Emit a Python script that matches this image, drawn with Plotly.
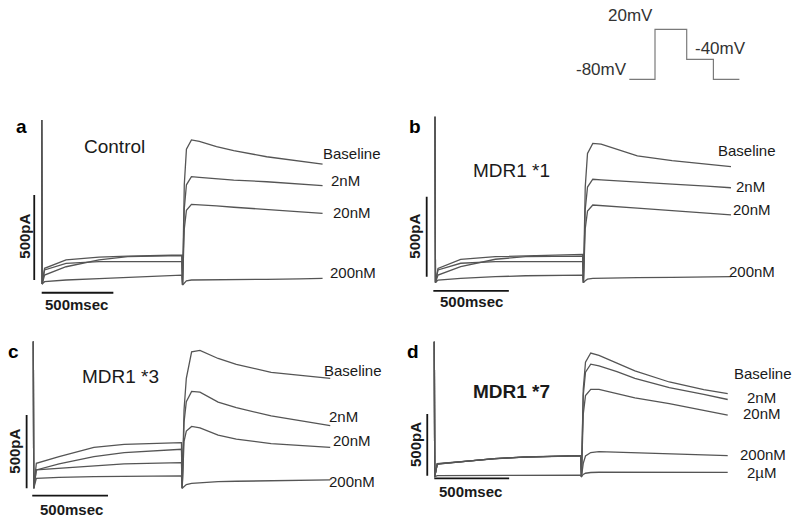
import plotly.graph_objects as go

W, H = 800, 521

# ---------------- data ----------------
# sample times (ms) along each sweep: spike, step to +20 mV (0-978 ms), tail at -40 mV
T_MS = [0, 3, 20, 170, 400, 600, 978, 983, 995, 1010, 1045, 1100, 1220, 1340, 1570, 1800, 1960]

CONC_ABC = ["Baseline", "2nM", "20nM", "200nM"]
CONC_D = ["Baseline", "2nM", "20nM", "200nM", "2µM"]

# current (pA) – panel a, Control
A_BASELINE = [941, -24, 69, 118, 135, 141, 147, -29, 560, 770, 824, 815, 785, 761, 725, 700, 682]
A_2NM = [941, -24, 59, 98, 108, 108, 108, -29, 420, 560, 608, 604, 594, 588, 578, 566, 555]
A_20NM = [941, -24, 29, 78, 118, 137, 143, -29, 300, 410, 445, 443, 436, 428, 416, 404, 392]
A_200NM = [941, -24, -10, 0, 8, 15, 29, -29, -15, -5, 0, 0, 0, 2, 4, 7, 10]

# panel b, MDR1 *1
B_BASELINE = [1000, -37, 52, 108, 125, 131, 140, -37, 560, 770, 833, 828, 790, 755, 725, 705, 688]
B_2NM = [1000, -37, 42, 84, 94, 94, 94, -37, 420, 560, 609, 605, 597, 590, 578, 566, 556]
B_20NM = [1000, -37, 10, 63, 109, 125, 129, -37, 300, 410, 448, 445, 437, 428, 413, 398, 386]
B_200NM = [1000, -37, -21, -10, 0, 6, 10, -37, -25, -15, -10, -10, -8, -6, -4, -2, 0]

# panel c, MDR1 *3
C_BASELINE = [1000, 0, 170, 216, 279, 300, 311, 0, 534, 750, 930, 940, 885, 845, 790, 765, 750]
C_2NM = [1000, 0, 125, 166, 216, 243, 266, 0, 450, 590, 660, 655, 588, 550, 493, 452, 427]
C_20NM = [1000, 0, 125, 136, 152, 166, 175, 0, 320, 390, 422, 412, 362, 335, 305, 290, 279]
C_200NM = [1000, 0, 68, 75, 79, 82, 84, 0, 10, 25, 34, 38, 45, 48, 52, 55, 57]

# panel d, MDR1 *7
D_BASELINE = [1087, -8, 95, 113, 138, 151, 162, -8, 700, 920, 995, 975, 912, 850, 760, 698, 665]
D_2NM = [1087, -8, 95, 113, 138, 151, 162, -8, 650, 840, 905, 890, 844, 790, 715, 660, 618]
D_20NM = [1087, -8, 97, 115, 139, 152, 163, -8, 500, 650, 700, 700, 668, 632, 585, 530, 492]
D_200NM = [1087, -8, 98, 114, 137, 150, 160, -8, 100, 160, 188, 195, 190, 185, 178, 170, 162]
D_2UM = [1087, -8, 0, 1, 2, 3, 4, -8, 10, 20, 26, 28, 28, 28, 28, 27, 27]

SCALE_PA = 500
SCALE_MS = 500
SCALE_LABEL_PA = "500pA"
SCALE_LABEL_MS = "500msec"

# voltage protocol (schematic)
PROTO_MV = [-80, 20, -40, -80]
PROTO_DUR_MS = [257, 317, 267, 260]
PROTO_LABELS = ["-80mV", "20mV", "-40mV"]

# ---------------- layout / geometry ----------------
FONT = "Liberation Sans, Arial, sans-serif"
TRACE_COLOR = "#555555"
BAR_COLOR = "#151515"

XR = [-120, 2350]
YR = [-150, 1150]

panels = [
    dict(letter="a", title="Control", bold=False, conc=CONC_ABC,
         series=[A_BASELINE, A_2NM, A_20NM, A_200NM],
         x0=41.7, pxms=0.1433, y0=280.0, pxpa=0.170,
         vbar_t=-52, hbar_pa=-75, hbar_t0=0,
         letter_pos=(21.7, 126.7), title_pos=(115, 146.7), title_size=19,
         lab_pos=[(351.7, 153.3), (345, 180), (351.7, 212.7), (353.3, 272.7)],
         pa_pos=(25, 236.7), ms_pos=(76.7, 304.5)),
    dict(letter="b", title="MDR1 *1", bold=False, conc=CONC_ABC,
         series=[B_BASELINE, B_2NM, B_20NM, B_200NM],
         x0=435.0, pxms=0.151, y0=276.7, pxpa=0.160,
         vbar_t=-55, hbar_pa=-89, hbar_t0=-11,
         letter_pos=(415, 126.7), title_pos=(511.7, 170.7), title_size=19,
         lab_pos=[(746.7, 150.7), (750, 186.7), (751.7, 209.3), (751.7, 271.7)],
         pa_pos=(415, 236.7), ms_pos=(471.7, 301.7)),
    dict(letter="c", title="MDR1 *3", bold=False, conc=CONC_ABC,
         series=[C_BASELINE, C_2NM, C_20NM, C_200NM],
         x0=33.3, pxms=0.1515, y0=488.3, pxpa=0.1467,
         vbar_t=-44, hbar_pa=-50, hbar_t0=-7,
         letter_pos=(13.3, 351.7), title_pos=(120, 376.7), title_size=19,
         lab_pos=[(353.3, 370), (343.3, 416), (351.7, 440), (351.7, 481)],
         pa_pos=(15, 451.7), ms_pos=(71.7, 509.3)),
    dict(letter="d", title="MDR1 *7", bold=True, conc=CONC_D,
         series=[D_BASELINE, D_2NM, D_20NM, D_200NM, D_2UM],
         x0=434.3, pxms=0.1497, y0=475.7, pxpa=0.1233,
         vbar_t=-47, hbar_pa=-21, hbar_t0=0,
         letter_pos=(413.3, 351.7), title_pos=(511.7, 391.7), title_size=19,
         lab_pos=[(763.3, 373.3), (761.7, 397.3), (761.7, 413.3), (762.7, 454.3), (761.7, 472.7)],
         pa_pos=(415, 445), ms_pos=(470, 491)),
]

fig = go.Figure()
layout_axes = {}
annotations = []


def ann(text, xpx, ypx, size, bold=False, angle=0, color="#1a1a1a"):
    annotations.append(dict(
        text=f"<b>{text}</b>" if bold else text,
        x=xpx / W, y=1 - ypx / H, xref="paper", yref="paper",
        xanchor="center", yanchor="middle", showarrow=False, textangle=angle,
        font=dict(family=FONT, size=size, color=color)))


for i, p in enumerate(panels, start=1):
    xa = "x" if i == 1 else f"x{i}"
    ya = "y" if i == 1 else f"y{i}"
    xl = p["x0"] + XR[0] * p["pxms"]
    xr = p["x0"] + XR[1] * p["pxms"]
    yb = p["y0"] - YR[0] * p["pxpa"]
    yt = p["y0"] - YR[1] * p["pxpa"]
    layout_axes["xaxis" if i == 1 else f"xaxis{i}"] = dict(
        domain=[xl / W, xr / W], range=XR, visible=False, anchor=ya)
    layout_axes["yaxis" if i == 1 else f"yaxis{i}"] = dict(
        domain=[1 - yb / H, 1 - yt / H], range=YR, visible=False, anchor=xa)

    for name, vals in zip(p["conc"], p["series"]):
        fig.add_trace(go.Scatter(x=T_MS, y=vals, mode="lines", name=name,
                                 line=dict(color=TRACE_COLOR, width=1.3),
                                 xaxis=xa, yaxis=ya, showlegend=False))
    # scale bars
    fig.add_trace(go.Scatter(x=[p["vbar_t"], p["vbar_t"]], y=[0, SCALE_PA], mode="lines",
                             line=dict(color=BAR_COLOR, width=1.8),
                             xaxis=xa, yaxis=ya, showlegend=False))
    fig.add_trace(go.Scatter(x=[p["hbar_t0"], p["hbar_t0"] + SCALE_MS], y=[p["hbar_pa"], p["hbar_pa"]],
                             mode="lines", line=dict(color=BAR_COLOR, width=1.8),
                             xaxis=xa, yaxis=ya, showlegend=False))

    ann(p["letter"], *p["letter_pos"], 19, bold=True, color="#000")
    ann(p["title"], *p["title_pos"], p["title_size"], bold=p["bold"])
    for name, pos in zip(p["conc"], p["lab_pos"]):
        ann(name, *pos, 15)
    ann(SCALE_LABEL_PA, *p["pa_pos"], 15, bold=True, angle=-90)
    ann(SCALE_LABEL_MS, *p["ms_pos"], 15, bold=True)

# voltage protocol inset
px_x0, px_ms, px_y0, px_mv = 629.3, 0.1, 79.3, 0.5  # -80 mV at px_y0
PXR = [-100, 1200]
PYR = [-100, 40]
t_edges = [0]
for d in PROTO_DUR_MS:
    t_edges.append(t_edges[-1] + d)
proto_y = PROTO_MV + [PROTO_MV[-1]]
layout_axes["xaxis5"] = dict(domain=[(px_x0 + PXR[0] * px_ms) / W, (px_x0 + PXR[1] * px_ms) / W],
                             range=PXR, visible=False, anchor="y5")
layout_axes["yaxis5"] = dict(domain=[1 - (px_y0 - (PYR[0] + 80) * px_mv) / H,
                                     1 - (px_y0 - (PYR[1] + 80) * px_mv) / H],
                             range=PYR, visible=False, anchor="x5")
fig.add_trace(go.Scatter(x=t_edges, y=proto_y, mode="lines", line_shape="hv",
                         line=dict(color="#7a7a7a", width=1.2),
                         xaxis="x5", yaxis="y5", showlegend=False))
ann(PROTO_LABELS[0], 601.7, 70, 17, color="#333")
ann(PROTO_LABELS[1], 630, 15, 17, color="#333")
ann(PROTO_LABELS[2], 720, 48.3, 17, color="#333")

fig.update_layout(width=W, height=H, margin=dict(l=0, r=0, t=0, b=0),
                  paper_bgcolor="white", plot_bgcolor="rgba(0,0,0,0)",
                  annotations=annotations, **layout_axes)

fig.write_html("out.html", config={"displayModeBar": False},
               post_script="document.body.style.margin='0px';")
